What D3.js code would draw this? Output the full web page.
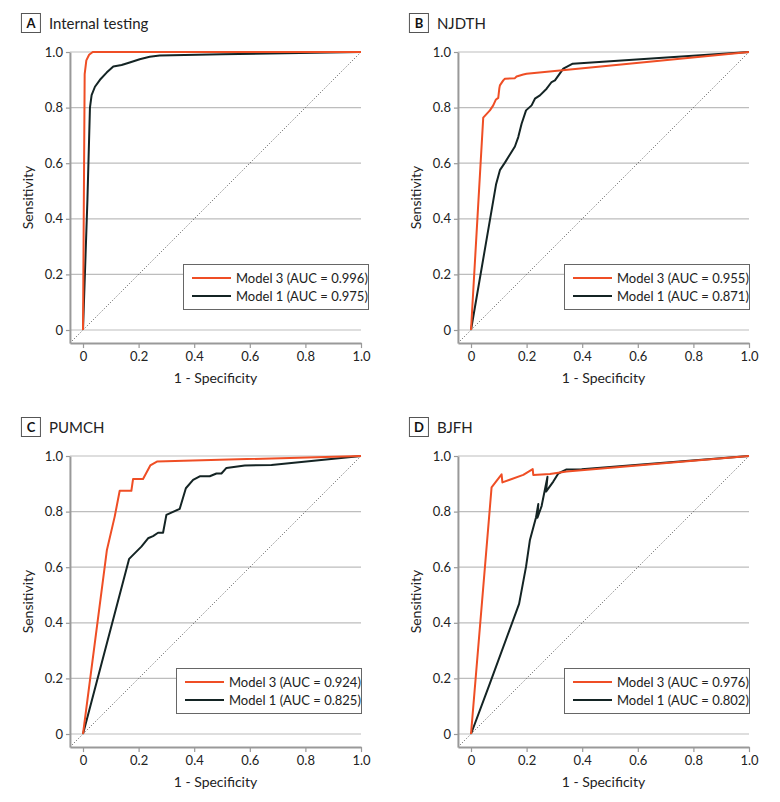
<!DOCTYPE html>
<html>
<head>
<meta charset="utf-8">
<script src="https://cdn.jsdelivr.net/npm/d3@7"></script>
<style>
  html, body { margin: 0; padding: 0; background: #fff; }
  svg { display: block; font-family: Lato, "Open Sans", sans-serif; }
</style>
</head>
<body>
<svg id="chart" width="780" height="802"></svg>
<script>
// ---------- DATA ----------
const panelLetters = ["A", "B", "C", "D"];
const panelTitles = ["Internal testing", "NJDTH", "PUMCH", "BJFH"];
const seriesNames = ["Model 3", "Model 1"];
const aucModel3 = ["0.996", "0.955", "0.924", "0.976"];
const aucModel1 = ["0.975", "0.871", "0.825", "0.802"];
const tickValues = [0, 0.2, 0.4, 0.6, 0.8, 1.0];
const tickLabels = ["0", "0.2", "0.4", "0.6", "0.8", "1.0"];
const xAxisTitle = "1 - Specificity";
const yAxisTitle = "Sensitivity";

// ROC points [1-specificity, sensitivity]
const rocA_model3 = [[0,0],[0.006,0.92],[0.012,0.97],[0.022,0.99],[0.035,1.0],[1,1]];
const rocA_model1 = [[0,0],[0.016,0.47],[0.025,0.80],[0.031,0.845],[0.043,0.875],[0.061,0.90],[0.085,0.926],[0.109,0.948],[0.139,0.953],[0.168,0.962],[0.204,0.974],[0.24,0.983],[0.276,0.987],[0.5,0.992],[1,1]];
const rocB_model3 = [[0,0],[0.044,0.764],[0.068,0.79],[0.08,0.808],[0.089,0.828],[0.098,0.835],[0.102,0.87],[0.104,0.88],[0.116,0.898],[0.122,0.904],[0.158,0.906],[0.164,0.912],[0.188,0.919],[0.2,0.922],[1,1]];
const rocB_model1 = [[0,0],[0.09,0.523],[0.104,0.575],[0.122,0.602],[0.158,0.66],[0.17,0.694],[0.182,0.742],[0.198,0.79],[0.218,0.808],[0.23,0.832],[0.248,0.844],[0.272,0.868],[0.29,0.892],[0.302,0.898],[0.332,0.94],[0.366,0.958],[1,1]];
const rocC_model3 = [[0,0],[0.086,0.662],[0.114,0.782],[0.132,0.875],[0.174,0.875],[0.18,0.917],[0.216,0.917],[0.242,0.966],[0.266,0.98],[1,1]];
const rocC_model1 = [[0,0],[0.166,0.63],[0.192,0.656],[0.21,0.674],[0.234,0.704],[0.252,0.712],[0.27,0.724],[0.288,0.724],[0.3,0.788],[0.348,0.81],[0.37,0.884],[0.396,0.914],[0.42,0.927],[0.456,0.927],[0.48,0.937],[0.498,0.937],[0.516,0.957],[0.582,0.966],[0.678,0.968],[1,1]];
const rocD_model3 = [[0,0],[0.074,0.887],[0.11,0.934],[0.113,0.905],[0.188,0.932],[0.222,0.953],[0.224,0.932],[0.284,0.935],[0.344,0.944],[1,1]];
const rocD_model1 = [[0,0],[0.068,0.182],[0.173,0.468],[0.198,0.602],[0.212,0.698],[0.234,0.78],[0.242,0.827],[0.239,0.778],[0.254,0.82],[0.275,0.925],[0.27,0.872],[0.296,0.908],[0.314,0.937],[0.342,0.951],[0.398,0.952],[1,1]];

const model3Curves = [rocA_model3, rocB_model3, rocC_model3, rocD_model3];
const model1Curves = [rocA_model1, rocB_model1, rocC_model1, rocD_model1];

// ---------- STYLE / LAYOUT ----------
const colors = ["#EF4E25", "#142424"];
const plotW = 278, plotH = 278;
const axisMin = -0.047;
const origins = [[83, 52], [471, 52], [83, 456], [471, 456]]; // x of 0, y of 1.0
const legendRightShift = [7, 0, 0, 0];

const svg = d3.select("#chart");

panelLetters.forEach((letter, i) => {
  const [ox, oy] = origins[i];
  const x = d3.scaleLinear().domain([axisMin, 1]).range([ox + axisMin * plotW, ox + plotW]);
  const y = d3.scaleLinear().domain([axisMin, 1]).range([oy + plotH - axisMin * plotH, oy]);
  const g = svg.append("g");

  // gridlines
  g.append("g").selectAll("line").data(tickValues).join("line")
    .attr("x1", x(axisMin)).attr("x2", x(1))
    .attr("y1", d => y(d)).attr("y2", d => y(d))
    .attr("stroke", "#bdbdbd").attr("stroke-width", 1.2);

  // diagonal reference
  g.append("line")
    .attr("x1", x(axisMin)).attr("y1", y(axisMin))
    .attr("x2", x(1)).attr("y2", y(1))
    .attr("stroke", "#555").attr("stroke-width", 1)
    .attr("stroke-dasharray", "1,2");

  // axes
  const fmt = d => tickLabels[tickValues.indexOf(d)];
  const xAxis = g.append("g").attr("transform", `translate(0,${y(axisMin)})`)
    .call(d3.axisBottom(x).tickValues(tickValues).tickFormat(fmt).tickSize(5).tickSizeOuter(0).tickPadding(4));
  const yAxis = g.append("g").attr("transform", `translate(${x(axisMin)},0)`)
    .call(d3.axisLeft(y).tickValues(tickValues).tickFormat(fmt).tickSize(4).tickSizeOuter(0).tickPadding(3));
  [xAxis, yAxis].forEach(a => {
    a.select(".domain").attr("stroke", "#999").attr("stroke-width", 2);
    a.selectAll(".tick line").attr("stroke", "#999").attr("stroke-width", 1.2);
    a.selectAll(".tick text").attr("fill", "#222").style("font-size", "13px").style("font-family", "Lato, sans-serif");
  });

  // axis titles
  g.append("text")
    .attr("x", (x(axisMin) + x(1)) / 2).attr("y", y(axisMin) + 40)
    .attr("text-anchor", "middle").attr("fill", "#222")
    .style("font-size", "14px").text(xAxisTitle);
  g.append("text")
    .attr("transform", `translate(${x(axisMin) - 37},${(y(axisMin) + y(1)) / 2}) rotate(-90)`)
    .attr("text-anchor", "middle").attr("fill", "#222")
    .style("font-size", "14px").text(yAxisTitle);

  // curves
  const line = d3.line().x(d => x(d[0])).y(d => y(d[1]));
  [model1Curves[i], model3Curves[i]].forEach((pts, k) => {
    g.append("path").datum(pts)
      .attr("d", line).attr("fill", "none")
      .attr("stroke", k === 0 ? colors[1] : colors[0])
      .attr("stroke-width", 2).attr("stroke-linejoin", "round");
  });

  // panel title
  const bx = x(axisMin) - 49, by = oy - 39;
  g.append("rect").attr("x", bx + 0.5).attr("y", by + 0.5).attr("width", 19).attr("height", 19)
    .attr("fill", "#fff").attr("stroke", "#555").attr("stroke-width", 1);
  g.append("text").attr("x", bx + 10).attr("y", by + 15)
    .attr("text-anchor", "middle").attr("fill", "#111")
    .style("font-size", "13px").style("font-weight", "bold").text(letter);
  g.append("text").attr("x", bx + 28).attr("y", by + 15.5)
    .attr("fill", "#222").style("font-size", "15px").text(panelTitles[i]);

  // legend
  const lw = 185, lh = 45;
  const lx = x(1) + legendRightShift[i] - lw, ly = y(0) - 66;
  const lg = g.append("g").attr("transform", `translate(${lx},${ly})`);
  lg.append("rect").attr("x", 0.5).attr("y", 0.5).attr("width", lw).attr("height", lh)
    .attr("fill", "#fff").attr("stroke", "#666").attr("stroke-width", 1);
  const labels = [
    `${seriesNames[0]} (AUC = ${aucModel3[i]})`,
    `${seriesNames[1]} (AUC = ${aucModel1[i]})`
  ];
  labels.forEach((t, k) => {
    const yy = 14 + k * 18;
    lg.append("line").attr("x1", 9).attr("x2", 48).attr("y1", yy).attr("y2", yy)
      .attr("stroke", colors[k]).attr("stroke-width", 2);
    lg.append("text").attr("x", 53).attr("y", yy + 4.5).attr("fill", "#222")
      .style("font-size", "13px").text(t);
  });
});
</script>
</body>
</html>
